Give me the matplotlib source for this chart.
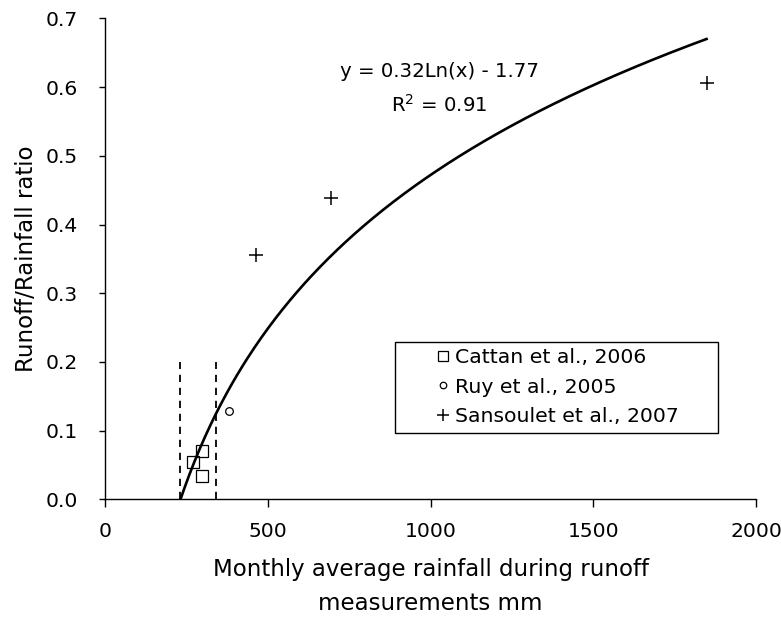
import matplotlib
matplotlib.use("Agg")
import matplotlib.pyplot as plt
import numpy as np
from matplotlib.patches import Rectangle
from matplotlib.ticker import FormatStrFormatter

plt.rcParams["font.family"] = ["DejaVu Sans"]
plt.rcParams["mathtext.fontset"] = "dejavusans"

# ── Data ─────────────────────────────────────────────────────────────────────
cattan_x = [298, 270, 298]
cattan_y = [0.071, 0.054, 0.034]

ruy_x = [380]
ruy_y = [0.129]

sansoulet_x = [464, 694, 1848]
sansoulet_y = [0.355, 0.439, 0.606]

# logarithmic trendline as drawn (y = a ln(x) + b)
fit_a = 0.322
fit_b = -1.752
fit_eq = "y = 0.32Ln(x) - 1.77"
fit_r2 = "R$^2$ = 0.91"

# dashed range markers
range_x = [230, 340]
range_top = 0.2

W, H = 781, 624

# ── Plot ─────────────────────────────────────────────────────────────────────
fig = plt.figure(figsize=(W / 100, H / 100), dpi=100)
ax = fig.add_axes([105.5 / W, 1 - 499.3 / H, (756 - 105.5) / W, (499.3 - 18.4) / H])

x_start = np.exp(-fit_b / fit_a)
xs = np.linspace(x_start, max(sansoulet_x), 300)
ax.plot(xs, fit_a * np.log(xs) + fit_b, color="black", lw=1.9, zorder=2)

for rx in range_x:
    ax.plot([rx, rx], [0, range_top], color="black", lw=1.3,
            dashes=(4, 3.2), zorder=2)

ax.plot(cattan_x, cattan_y, ls="none", marker="s", ms=8, mfc="none",
        mec="black", mew=0.9, label="Cattan et al., 2006", zorder=3)
ax.plot(ruy_x, ruy_y, ls="none", marker="o", ms=5.5, mfc="none",
        mec="black", mew=0.9, label="Ruy et al., 2005", zorder=3)
ax.plot(sansoulet_x, sansoulet_y, ls="none", marker="+", ms=10,
        mec="black", mew=1.1, label="Sansoulet et al., 2007", zorder=3)

ax.text(1027, 0.6143, fit_eq, ha="center", va="baseline", fontsize=14.2)
ax.text(1027, 0.5642, fit_r2, ha="center", va="baseline", fontsize=14.2)

ax.set_xlim(0, 2000)
ax.set_ylim(0, 0.7)
ax.set_xticks([0, 500, 1000, 1500, 2000])
ax.set_yticks(np.arange(0, 0.71, 0.1))
ax.yaxis.set_major_formatter(FormatStrFormatter("%.1f"))

for side in ("top", "right"):
    ax.spines[side].set_visible(False)
for side in ("left", "bottom"):
    ax.spines[side].set_linewidth(1.0)
    ax.spines[side].set_color("black")
ax.tick_params(axis="both", direction="out", width=1, labelsize=14.6,
               colors="black")
ax.tick_params(axis="x", length=5.5, pad=11)
ax.tick_params(axis="y", length=4, pad=16)

ax.set_xlabel("Monthly average rainfall during runoff\nmeasurements mm",
              fontsize=16.5, labelpad=12, linespacing=1.6)
ax.set_ylabel("Runoff/Rainfall ratio", fontsize=16.5, labelpad=5.5)

# legend: frameless entries plus a separate box, as in the original
leg = ax.legend(loc="upper left", bbox_to_anchor=(433 / W, 1 - 348 / H),
                bbox_transform=fig.transFigure, borderaxespad=0,
                frameon=False, fontsize=14.7, handlelength=1.0,
                handletextpad=0.1, borderpad=0, labelspacing=0.52,
                markerscale=0.85)
fig.add_artist(Rectangle((395 / W, 1 - 433 / H), (718 - 395) / W, (433 - 342) / H,
                         transform=fig.transFigure, fill=False,
                         edgecolor="black", lw=1.0))

fig.savefig("out.png", dpi=100)
